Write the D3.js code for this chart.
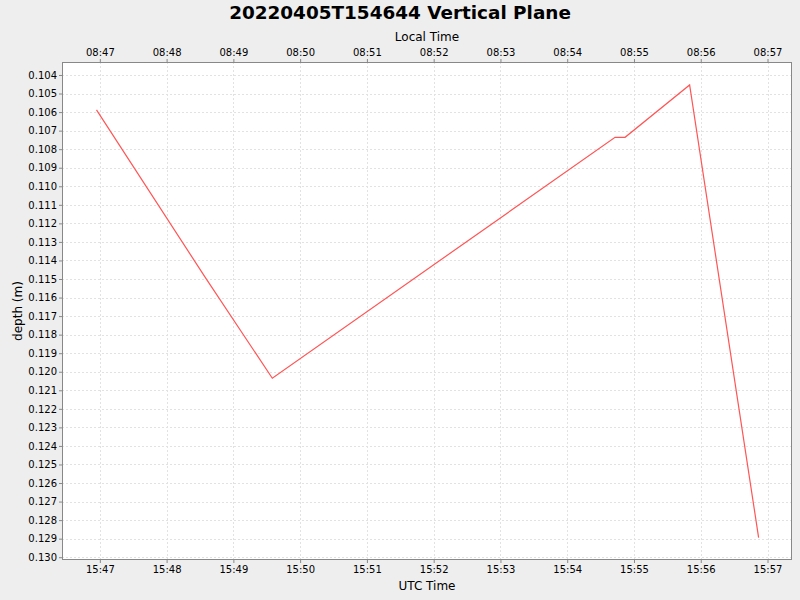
<!DOCTYPE html>
<html>
<head>
<meta charset="utf-8">
<script src="https://cdn.jsdelivr.net/npm/d3@7"></script>
<style>
  body { margin: 0; background: #eeeeee; }
  svg { display: block; font-family: "DejaVu Sans", sans-serif; }
</style>
</head>
<body>
<svg width="800" height="600"></svg>
<script>
const width = 800;
const height = 600;

// data (UTC times on 2022-04-05)
const utcTimes = ["15:46:57", "15:48:35", "15:49:35", "15:54:43", "15:54:52", "15:55:50", "15:56:52"];
const depths = [0.10588, 0.11494, 0.12035, 0.10736, 0.10736, 0.10454, 0.12894];

const timeRange = ["15:46:26", "15:57:22"];
const depthRange = [0.1033, 0.13015];
const depthTicks = [0.104, 0.105, 0.106, 0.107, 0.108, 0.109, 0.110, 0.111, 0.112, 0.113,
  0.114, 0.115, 0.116, 0.117, 0.118, 0.119, 0.120, 0.121, 0.122, 0.123, 0.124, 0.125,
  0.126, 0.127, 0.128, 0.129, 0.130];
const localOffsetHours = -7;

const toDate = s => new Date("2022-04-05T" + s + "Z");
const points = utcTimes.map((t, i) => ({ t: toDate(t), d: depths[i] }));

const margin = { top: 62, right: 8, bottom: 40, left: 62 };
const plotW = width - margin.left - margin.right;
const plotH = height - margin.top - margin.bottom;

const svg = d3.select("svg");

svg.append("rect")
  .attr("width", width)
  .attr("height", height)
  .attr("fill", "#eeeeee");

const x = d3.scaleUtc()
  .domain(timeRange.map(toDate))
  .range([0, plotW]);

const y = d3.scaleLinear()
  .domain(depthRange)
  .range([0, plotH]);

const g = svg.append("g").attr("transform", `translate(${margin.left},${margin.top})`);

g.append("rect")
  .attr("width", plotW)
  .attr("height", plotH)
  .attr("fill", "#ffffff");

const minuteTicks = x.ticks(d3.utcMinute.every(1));

// grid
g.append("g")
  .selectAll("line")
  .data(minuteTicks)
  .join("line")
  .attr("x1", d => Math.round(x(d)) + 0.5)
  .attr("x2", d => Math.round(x(d)) + 0.5)
  .attr("y1", 0)
  .attr("y2", plotH)
  .attr("stroke", "#e2e2e2")
  .attr("stroke-dasharray", "2,2");

g.append("g")
  .selectAll("line")
  .data(depthTicks)
  .join("line")
  .attr("x1", 0)
  .attr("x2", plotW)
  .attr("y1", d => Math.round(y(d)) + 0.5)
  .attr("y2", d => Math.round(y(d)) + 0.5)
  .attr("stroke", "#e2e2e2")
  .attr("stroke-dasharray", "2,2");

// line
g.append("path")
  .datum(points)
  .attr("fill", "none")
  .attr("stroke", "#ff5555")
  .attr("stroke-width", 1.2)
  .attr("d", d3.line().x(d => x(d.t)).y(d => y(d.d)));

// border
g.append("rect")
  .attr("x", 0.5)
  .attr("y", 0.5)
  .attr("width", plotW - 1)
  .attr("height", plotH - 1)
  .attr("fill", "none")
  .attr("stroke", "#888888");

// axes
const fmt = d3.utcFormat("%H:%M");
const localFmt = d => fmt(d3.utcHour.offset(d, localOffsetHours));

const bottomAxis = g.append("g")
  .attr("transform", `translate(0,${plotH})`)
  .call(d3.axisBottom(x).tickValues(minuteTicks).tickFormat(fmt).tickSize(3).tickPadding(3));

const topAxis = g.append("g")
  .call(d3.axisTop(x).tickValues(minuteTicks).tickFormat(localFmt).tickSize(3).tickPadding(3));

const leftAxis = g.append("g")
  .call(d3.axisLeft(y).tickValues(depthTicks).tickFormat(d3.format(".3f")).tickSize(3).tickPadding(2));

[bottomAxis, topAxis, leftAxis].forEach(a => {
  a.select(".domain").remove();
  a.selectAll(".tick line").attr("stroke", "#888888");
  a.selectAll(".tick text")
    .attr("font-family", "DejaVu Sans, sans-serif")
    .attr("font-size", 10)
    .attr("fill", "#000");
});

// titles
svg.append("text")
  .attr("x", width / 2)
  .attr("y", 19)
  .attr("text-anchor", "middle")
  .attr("font-size", 18.4)
  .attr("font-weight", "bold")
  .text("20220405T154644 Vertical Plane");

svg.append("text")
  .attr("x", margin.left + plotW / 2)
  .attr("y", 41)
  .attr("text-anchor", "middle")
  .attr("font-size", 12)
  .text("Local Time");

svg.append("text")
  .attr("x", margin.left + plotW / 2)
  .attr("y", 590)
  .attr("text-anchor", "middle")
  .attr("font-size", 12)
  .text("UTC Time");

svg.append("text")
  .attr("transform", `translate(22,${margin.top + plotH / 2}) rotate(-90)`)
  .attr("text-anchor", "middle")
  .attr("font-size", 12)
  .text("depth (m)");
</script>
</body>
</html>
